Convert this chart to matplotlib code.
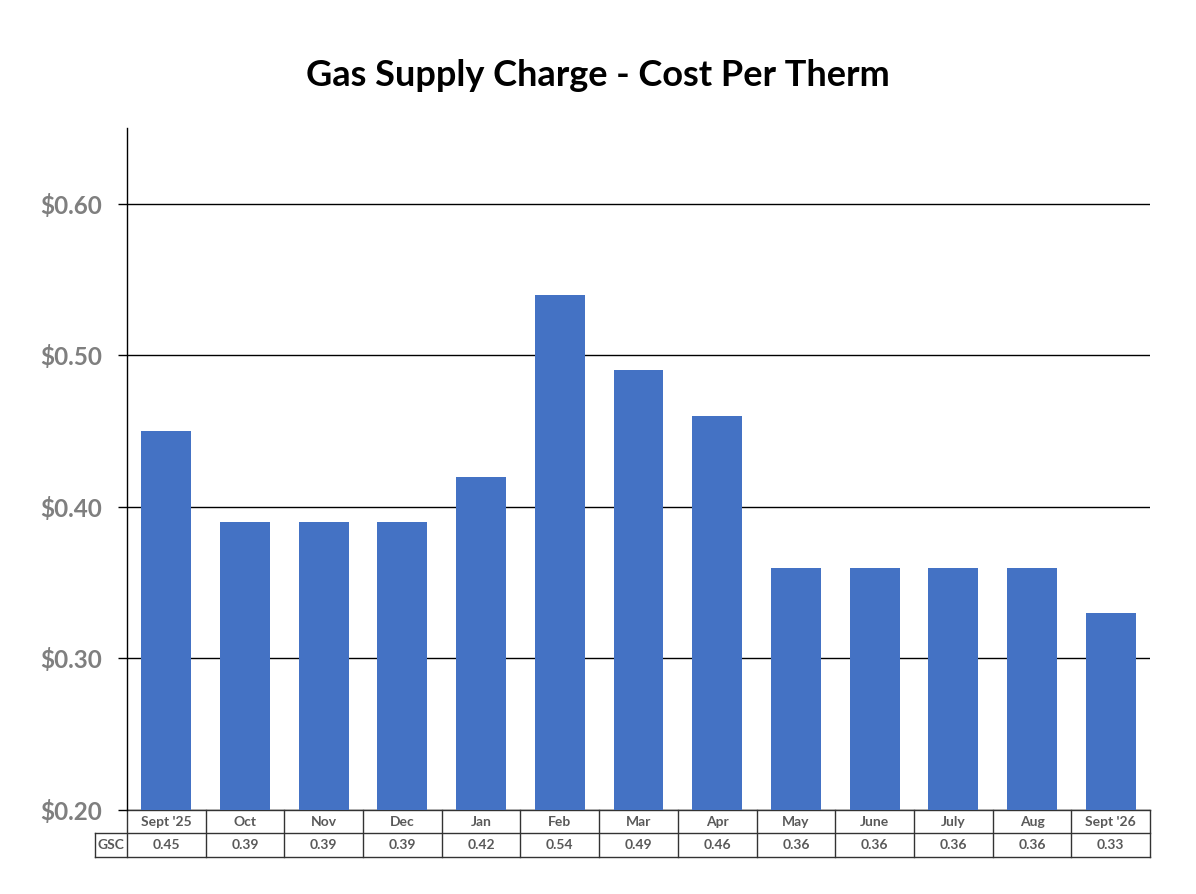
import matplotlib
matplotlib.use("Agg")
import matplotlib.pyplot as plt
from matplotlib.transforms import blended_transform_factory

categories = ["Sept '25", "Oct", "Nov", "Dec", "Jan", "Feb", "Mar", "Apr",
              "May", "June", "July", "Aug", "Sept '26"]
gsc = [0.45, 0.39, 0.39, 0.39, 0.42, 0.54, 0.49, 0.46, 0.36, 0.36, 0.36, 0.36, 0.33]
yticks = [0.20, 0.30, 0.40, 0.50, 0.60]
series_name = "GSC"
title = "Gas Supply Charge - Cost Per Therm"

plt.rcParams['font.family'] = ['Lato', 'DejaVu Sans']

fig = plt.figure(figsize=(11.96, 8.94), dpi=100)
ax = fig.add_axes([127/1196, 1-810/894, (1150-127)/1196, (810-128)/894])

n = len(categories)
x = list(range(n))
ax.bar(x, gsc, width=0.635, color="#4472C4", zorder=3)
ax.set_xlim(-0.5, n-0.5)
ax.set_ylim(0.20, 0.65)
ax.set_yticks(yticks)
ax.set_yticklabels([f"${v:.2f}" for v in yticks], fontsize=17.5, fontweight="bold", color="#7F7F7F")
ax.tick_params(axis='y', length=6.5, width=1, color="black", pad=11.5)
ax.set_xticks([])
ax.grid(axis='y', color="black", linewidth=1, zorder=0)
for s in ["top", "right", "bottom"]:
    ax.spines[s].set_visible(False)
ax.spines["left"].set_linewidth(1)

fig.text(0.5, 1-75/894, title, ha="center", va="center", fontsize=26, fontweight="bold")

# data table below the axis
tr = blended_transform_factory(ax.transData, ax.transAxes)
h_ax = (810-128)
r1 = -(833-810)/h_ax
r2 = -(857-810)/h_ax
lbl_left = -0.5 - (127-95)/((1150-127)/n)
kw = dict(transform=tr, clip_on=False, color="#333333", lw=1)
ax.plot([-0.5, n-0.5], [0, 0], **kw)
ax.plot([lbl_left, n-0.5], [r1, r1], **kw)
ax.plot([lbl_left, n-0.5], [r2, r2], **kw)
ax.plot([lbl_left, lbl_left], [r1, r2], **kw)
for i in range(n+1):
    ax.plot([i-0.5, i-0.5], [0, r2], **kw)
for i, (c, v) in enumerate(zip(categories, gsc)):
    ax.text(i, r1/2, c, transform=tr, ha="center", va="center", fontsize=10,
            fontweight="bold", color="#595959")
    ax.text(i, (r1+r2)/2, f"{v:.2f}", transform=tr, ha="center", va="center",
            fontsize=10, fontweight="bold", color="#595959")
ax.text((lbl_left-0.5)/2, (r1+r2)/2, series_name, transform=tr, ha="center", va="center",
        fontsize=10, fontweight="bold", color="#595959")

fig.savefig("out.png", dpi=100)
